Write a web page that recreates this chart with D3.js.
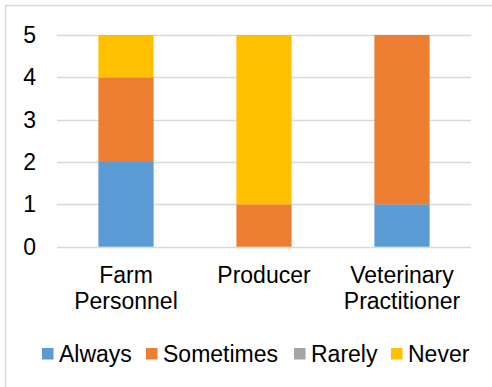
<!DOCTYPE html>
<html>
<head>
<meta charset="utf-8">
<script src="https://cdn.jsdelivr.net/npm/d3@7"></script>
<style>
  html, body { margin: 0; padding: 0; background: #fff; }
  svg { display: block; }
  text { font-family: "Liberation Sans", Arial, sans-serif; fill: #000; }
</style>
</head>
<body>
<svg id="chart" width="492" height="387"></svg>
<script>
// Frequency of responses by respondent group
const categories = [["Farm", "Personnel"], ["Producer"], ["Veterinary", "Practitioner"]];
const seriesNames = ["Always", "Sometimes", "Rarely", "Never"];
const always    = [2, 0, 1];
const sometimes = [2, 1, 4];
const rarely    = [0, 0, 0];
const never     = [1, 4, 0];
const yTicks = [0, 1, 2, 3, 4, 5];
const colors = ["#5B9BD5", "#ED7D31", "#A5A5A5", "#FFC000"];

const FONT = 23;

const seriesValues = [always, sometimes, rarely, never];
const rows = categories.map((c, i) => {
  const r = { key: c.join(" ") };
  seriesNames.forEach((s, j) => { r[s] = seriesValues[j][i]; });
  return r;
});

const svg = d3.select("#chart");

// outer chart frame
svg.append("rect")
  .attr("x", 5.5).attr("y", 5.5)
  .attr("width", 492).attr("height", 392)
  .attr("fill", "#fff").attr("stroke", "#D9D9D9").attr("stroke-width", 1.5);

const plot = { left: 57, right: 471, top: 35, bottom: 246.7 };

const x = d3.scaleBand()
  .domain(rows.map(r => r.key))
  .range([plot.left, plot.right])
  .paddingInner(0.6).paddingOuter(0.3);

const y = d3.scaleLinear().domain([0, 5]).range([plot.bottom, plot.top]);

// gridlines
svg.append("g")
  .selectAll("line")
  .data(yTicks)
  .join("line")
  .attr("x1", plot.left).attr("x2", plot.right)
  .attr("y1", d => Math.round(y(d)) + 0.5).attr("y2", d => Math.round(y(d)) + 0.5)
  .attr("stroke", "#D9D9D9").attr("stroke-width", 1.5);

// y axis labels
const yAxis = d3.axisLeft(y).tickValues(yTicks).tickSize(0).tickPadding(0).tickFormat(d3.format("d"));
const yg = svg.append("g").attr("transform", "translate(36,0)").call(yAxis);
yg.select(".domain").remove();
yg.selectAll("text")
  .attr("font-size", FONT)
  .attr("font-family", "Liberation Sans, Arial, sans-serif")
  .attr("fill", "#000");

// stacked bars
const stack = d3.stack().keys(seriesNames)(rows);
svg.append("g")
  .selectAll("g")
  .data(stack)
  .join("g")
  .attr("fill", (d, i) => colors[i])
  .selectAll("rect")
  .data(d => d)
  .join("rect")
  .attr("x", d => x(d.data.key))
  .attr("width", x.bandwidth())
  .attr("y", d => y(d[1]))
  .attr("height", d => y(d[0]) - y(d[1]));

// category labels
const xg = svg.append("g");
categories.forEach((lines, i) => {
  const cx = x(rows[i].key) + x.bandwidth() / 2;
  const t = xg.append("text")
    .attr("x", cx).attr("y", 282.5)
    .attr("text-anchor", "middle")
    .attr("font-size", FONT);
  lines.forEach((ln, k) => {
    t.append("tspan").attr("x", cx).attr("dy", k === 0 ? 0 : 26).text(ln);
  });
});

// legend
const legendX = [42, 146, 294, 391];
const lg = svg.append("g");
seriesNames.forEach((s, i) => {
  lg.append("rect")
    .attr("x", legendX[i]).attr("y", 348)
    .attr("width", 11.5).attr("height", 11.5)
    .attr("fill", colors[i]);
  lg.append("text")
    .attr("x", legendX[i] + 17).attr("y", 361.5)
    .attr("font-size", FONT)
    .text(s);
});
</script>
</body>
</html>
